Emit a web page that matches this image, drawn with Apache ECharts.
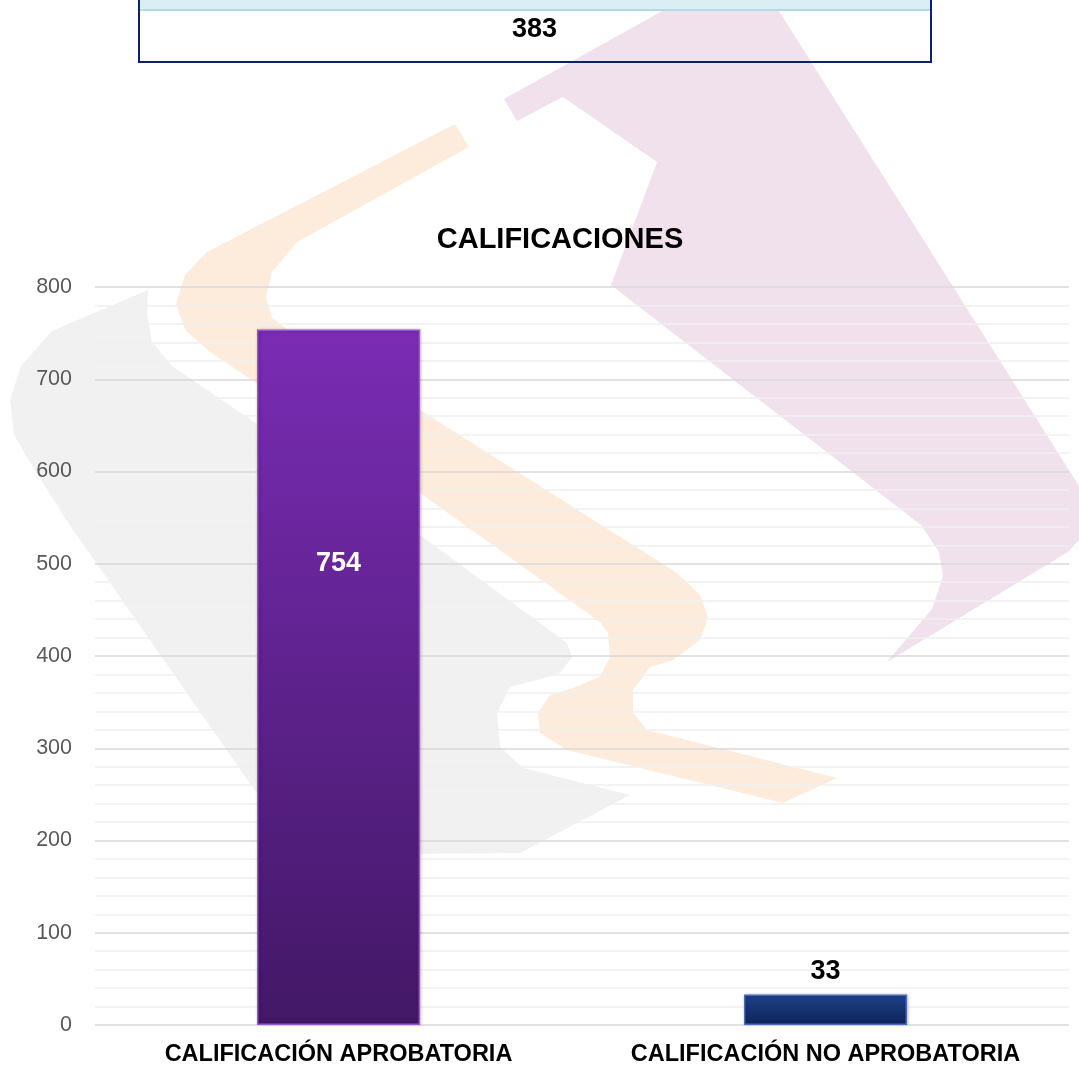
<!DOCTYPE html>
<html>
<head>
<meta charset="utf-8">
<title>Calificaciones</title>
<script src="https://cdn.jsdelivr.net/npm/echarts@6/dist/echarts.min.js"></script>
<style>
    html, body { margin: 0; padding: 0; background: #fff; }
    #chart { width: 1079px; height: 1068px; }
</style>
</head>
<body>
<div id="chart"></div>
<script>
// datos del grafico
const categories = ['CALIFICACIÓN APROBATORIA', 'CALIFICACIÓN NO APROBATORIA'];
const values = [754, 33];
const headerTotal = 383;
const yTicks = [0, 100, 200, 300, 400, 500, 600, 700, 800];

const fontFamily = 'Arial, "Liberation Sans", sans-serif';

// colores de las barras (degradado para simular el bisel)
const barColors = [
    { top: '#7a2cb4', bottom: '#421866', border: '#9a55d2' },
    { top: '#1d4288', bottom: '#0e2458', border: '#4a6cb8' }
];

// marca de agua del fondo
const watermark = [
    { fill: '#f1f1f1', points: [[148,290],[52,331],[21,366],[10,400],[14,435],[34,469],[69,524],[300,855],[520,853],[630,795],[523,768],[500,747],[497,713],[510,687],[537,680],[560,673],[572,657],[567,643],[420,535],[172,366],[152,342],[147,314]] },
    { fill: '#fdecdb', points: [[455,124],[207,252],[185,275],[176,304],[185,330],[210,352],[420,493],[600,622],[608,633],[610,657],[600,677],[573,688],[550,695],[538,713],[540,733],[567,750],[783,803],[837,778],[647,730],[633,713],[633,690],[650,667],[673,660],[700,640],[708,617],[700,595],[677,573],[420,410],[295,335],[272,318],[266,297],[272,272],[297,242],[469,147]] },
    { fill: '#f0e1ec', points: [[504,99],[682,0],[772,0],[1079,486],[1079,540],[1068,552],[887,662],[932,609],[943,576],[939,552],[921,525],[611,285],[657,162],[563,97],[517,121]] }
];

var chart = echarts.init(document.getElementById('chart'));

var graphics = watermark.map(w => ({
    type: 'polygon',
    z: -10,
    silent: true,
    shape: { points: w.points },
    style: { fill: w.fill }
}));

// recuadro superior con el total
graphics.push({
    type: 'rect', z: -5, silent: true,
    shape: { x: 139, y: -2, width: 792, height: 12 },
    style: { fill: '#daeef3' }
});
graphics.push({
    type: 'line', z: -5, silent: true,
    shape: { x1: 139, y1: 10, x2: 931, y2: 10 },
    style: { stroke: '#b0dbe6', lineWidth: 2 }
});
graphics.push({
    type: 'rect', z: -4, silent: true,
    shape: { x: 139, y: -5, width: 792, height: 67 },
    style: { fill: null, stroke: '#0c2462', lineWidth: 2 }
});
graphics.push({
    type: 'text', z: -4, silent: true,
    left: 512, top: 16,
    style: { text: String(headerTotal), font: 'bold 27px ' + fontFamily, fill: '#000' }
});

var option = {
    backgroundColor: '#fff',
    animation: false,
    title: {
        text: 'CALIFICACIONES',
        left: 555,
        top: 220,
        textAlign: 'center',
        textStyle: { fontFamily: fontFamily, fontSize: 29, fontWeight: 'bold', color: '#000' }
    },
    graphic: graphics,
    grid: { left: 95, right: 10, top: 287, bottom: 43 },
    xAxis: {
        type: 'category',
        data: categories,
        axisLine: { show: false },
        axisTick: { show: false },
        axisLabel: {
            interval: 0,
            hideOverlap: false,
            margin: 18,
            fontFamily: fontFamily,
            fontSize: 23.5,
            fontWeight: 'bold',
            color: '#000'
        }
    },
    yAxis: {
        type: 'value',
        min: yTicks[0],
        max: yTicks[yTicks.length - 1],
        interval: 100,
        axisLine: { show: false },
        axisTick: { show: false },
        axisLabel: { margin: 23, fontFamily: fontFamily, fontSize: 21.5, color: '#595959' },
        splitLine: { lineStyle: { color: '#d9d9d9', width: 1.5 } },
        minorTick: { show: false, splitNumber: 5 },
        minorSplitLine: { show: true, lineStyle: { color: '#efefef', width: 1.5 } }
    },
    series: [{
        type: 'bar',
        barWidth: '33.5%',
        data: values.map((v, i) => ({
            value: v,
            itemStyle: {
                color: new echarts.graphic.LinearGradient(0, 0, 0, 1, [
                    { offset: 0, color: barColors[i].top },
                    { offset: 1, color: barColors[i].bottom }
                ]),
                borderColor: barColors[i].border,
                borderWidth: 1.5,
                shadowColor: 'rgba(0,0,0,0.25)',
                shadowBlur: 3,
                shadowOffsetX: 1
            },
            label: i === 0 ? {
                show: true, position: ['50%', 234], align: 'center', verticalAlign: 'middle',
                color: '#fff', fontFamily: fontFamily, fontSize: 27, fontWeight: 'bold'
            } : {
                show: true, position: 'top', distance: 10, color: '#000',
                fontFamily: fontFamily, fontSize: 27, fontWeight: 'bold'
            }
        }))
    }]
};

chart.setOption(option);
window.onresize = function () {
    chart.resize();
};
</script>
</body>
</html>
